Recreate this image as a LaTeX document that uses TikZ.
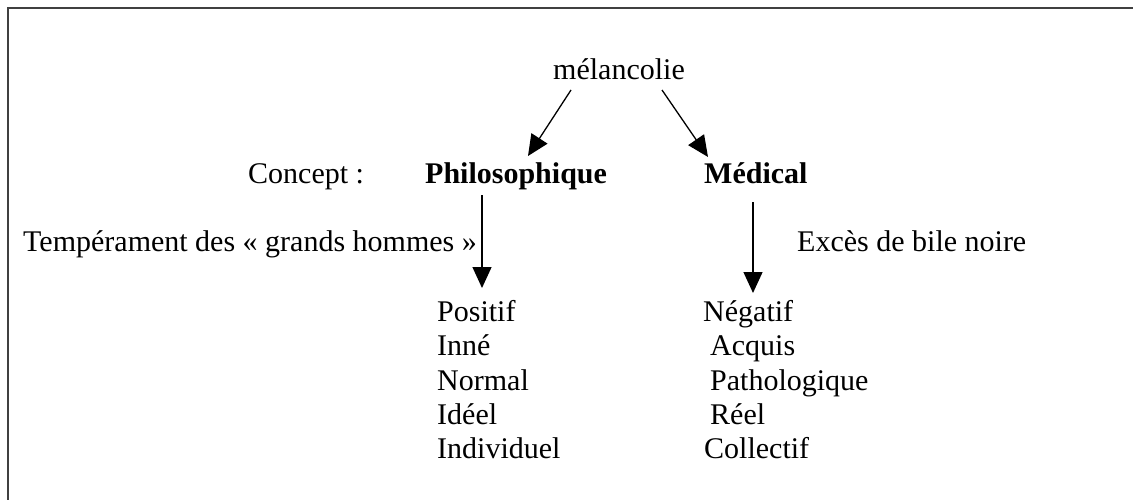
\documentclass[tikz,border=0pt]{standalone}
\usepackage{fontspec}
\setmainfont{Liberation Serif}
\usetikzlibrary{arrows.meta}
\begin{document}
\begin{tikzpicture}[x=1pt,y=-1pt,
  txt/.style={anchor=base west,inner sep=0pt,font=\fontsize{30}{36}\selectfont},
  btxt/.style={txt,font=\fontsize{30}{36}\selectfont\bfseries},
  arr/.style={line width=1.3pt,-{Triangle[length=21pt,width=19pt]}}]
\useasboundingbox (0,0) rectangle (1133,500);
\draw[line width=2.2pt,black!75] (1133,8) -- (8,8) -- (8,500);
\node[txt] (mel) at (553,80) {mélancolie};
\node[txt] (concept) at (248,184) {Concept :};
\node[btxt] (phil) at (425,184) {Philosophique};
\node[btxt] (med) at (704,184) {Médical};
\node[txt] (temp) at (23,251) {Tempérament des « grands hommes »};
\node[txt] (exces) at (797,251) {Excès de bile noire};
\node[txt] (pos) at (437,321) {Positif};
\node[txt] (inne) at (437,355) {Inné};
\node[txt] (norm) at (437,390) {Normal};
\node[txt] (ideel) at (437,424) {Idéel};
\node[txt] (indiv) at (437,458) {Individuel};
\node[txt] (neg) at (703,321) {Négatif};
\node[txt] (acq) at (710,355) {Acquis};
\node[txt] (path) at (710,390) {Pathologique};
\node[txt] (reel) at (710,424) {Réel};
\node[txt] (coll) at (704,458) {Collectif};
\coordinate (m1) at (571,90);
\coordinate (m2) at (662,90);
\coordinate (p1) at (528,156);
\coordinate (d1) at (708,157);
\coordinate (p2) at (482,195);
\coordinate (p3) at (482,288);
\coordinate (d2) at (753,202);
\coordinate (d3) at (753,293);
\draw[arr] (m1) -- (p1);
\draw[arr] (m2) -- (d1);
\draw[arr] (p2) -- (p3);
\draw[arr] (d2) -- (d3);
\end{tikzpicture}
\end{document}
